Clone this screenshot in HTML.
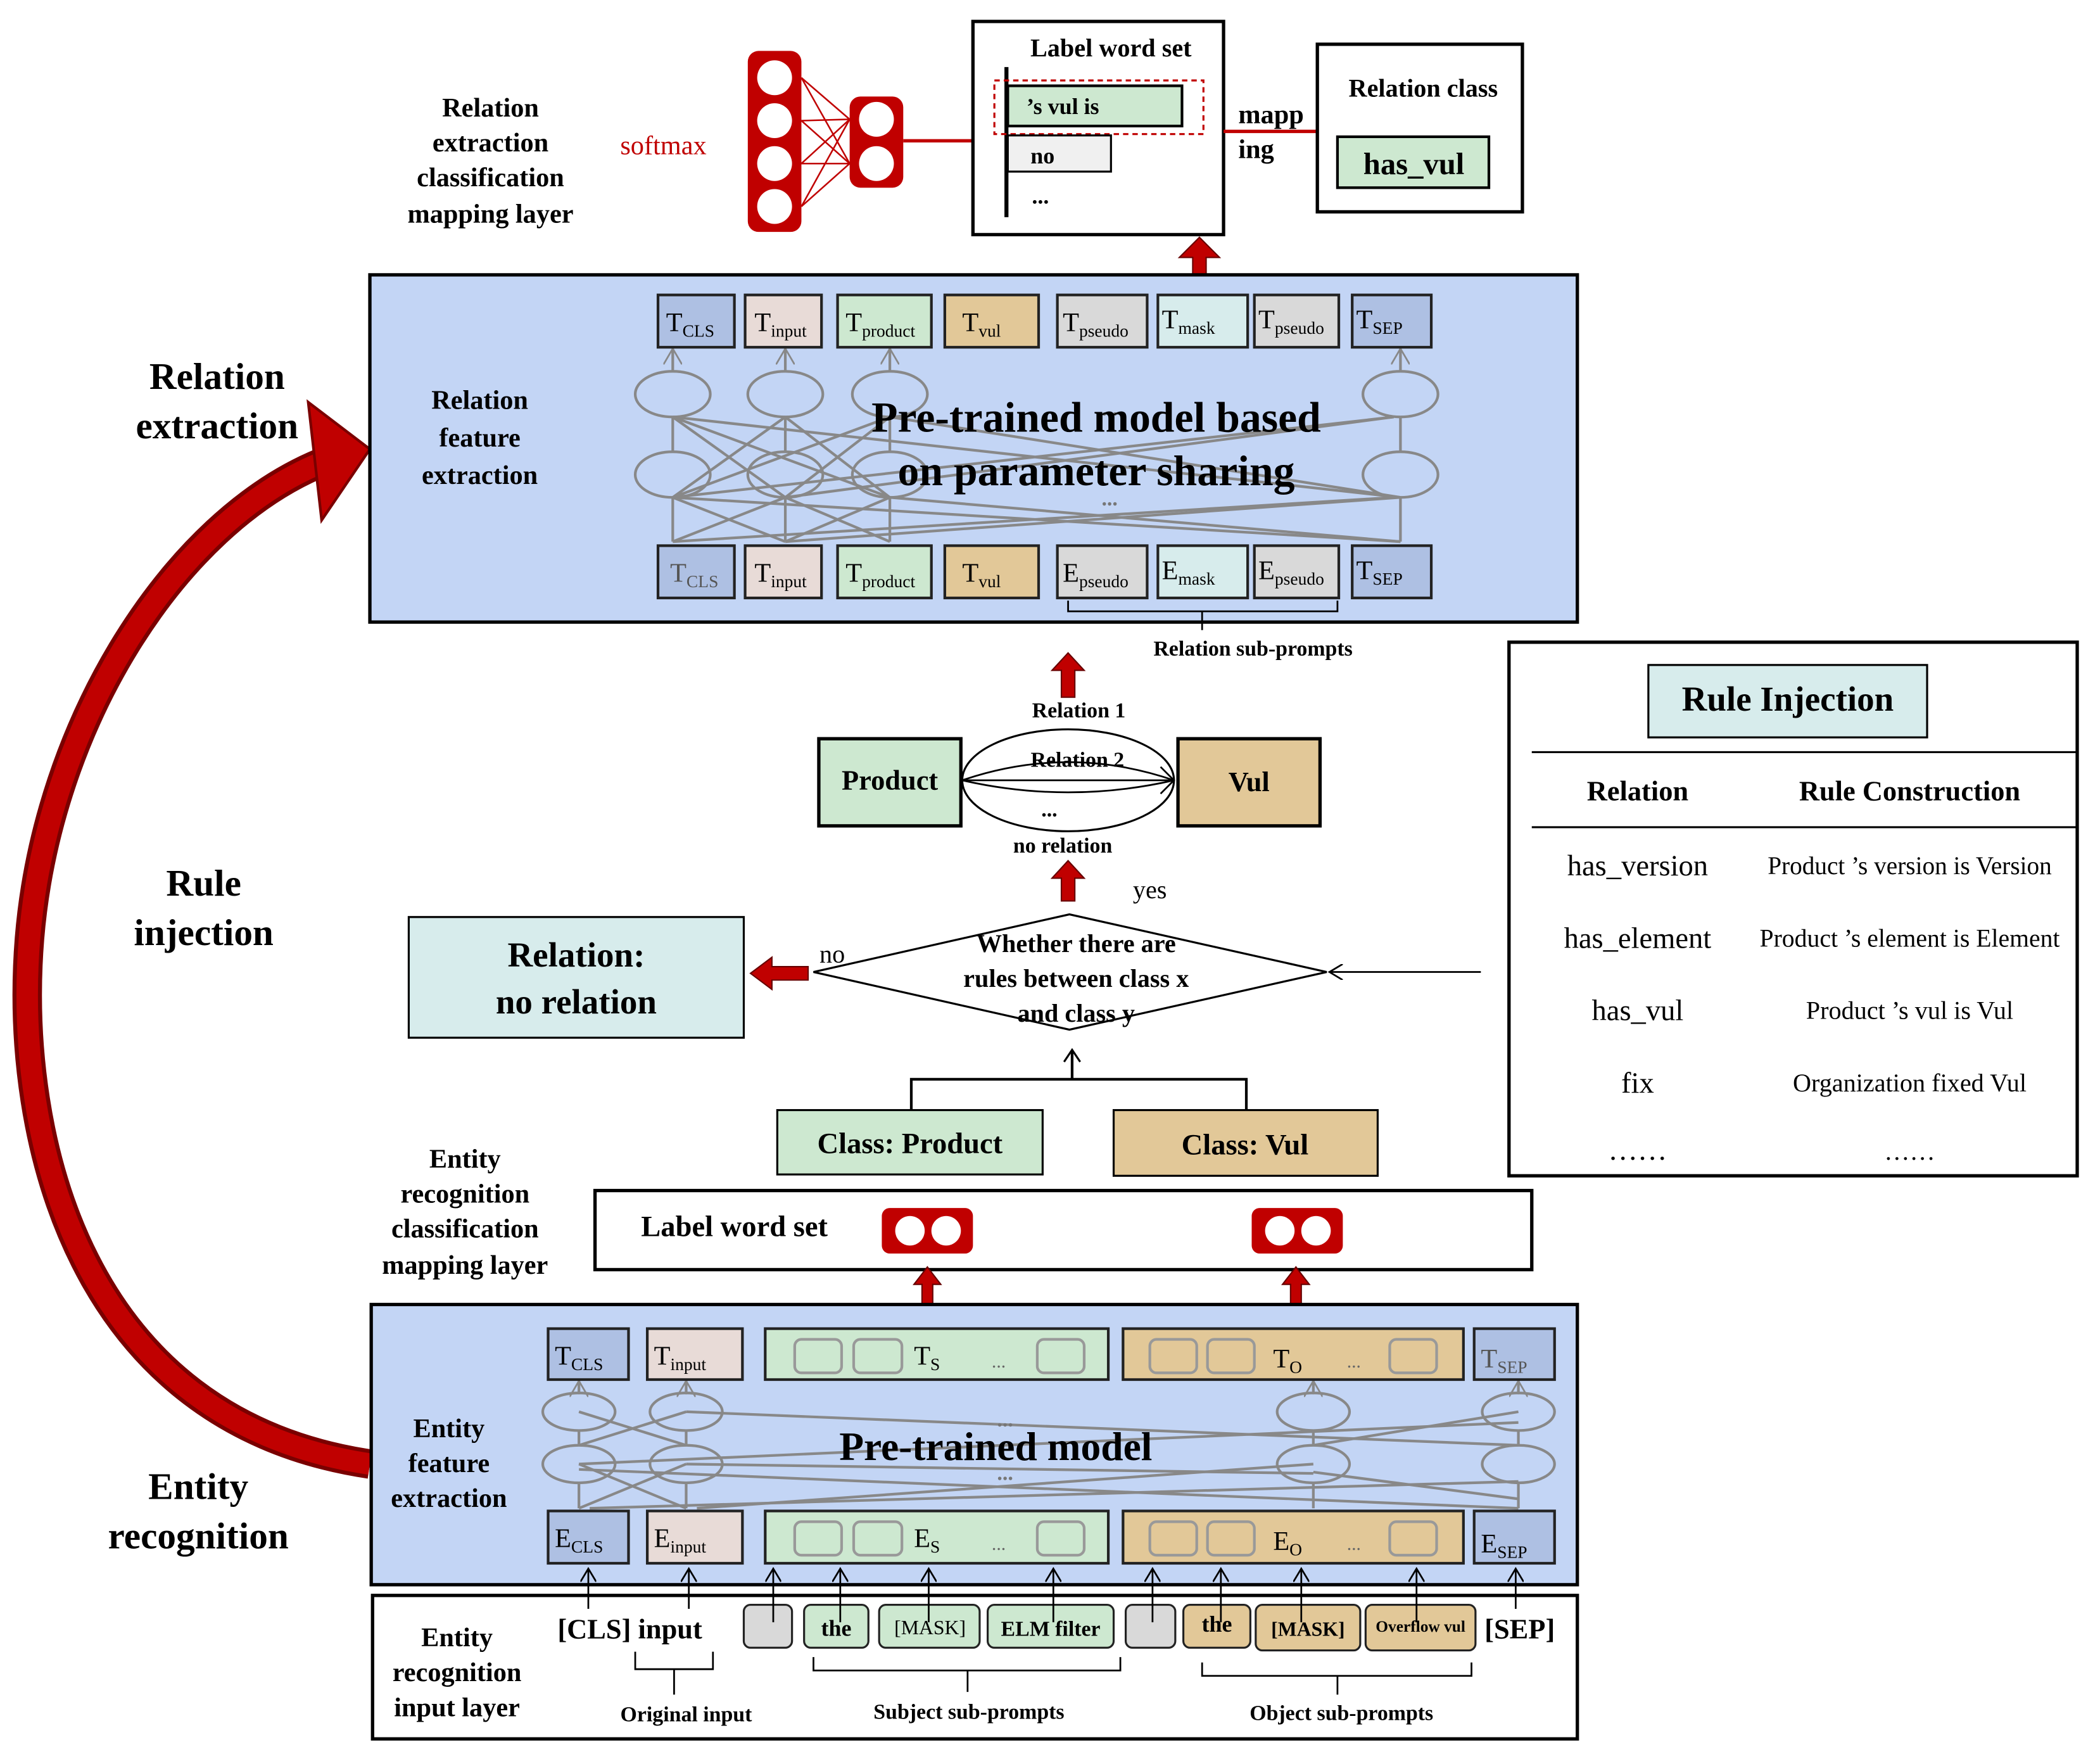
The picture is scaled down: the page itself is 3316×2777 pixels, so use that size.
<!DOCTYPE html>
<html><head><meta charset="utf-8"><style>
html,body{margin:0;padding:0;background:#fff;}
svg{display:block;}
text{font-family:"Liberation Serif",serif;font-weight:bold;fill:#000;}
</style></head><body>
<svg width="3316" height="2777" viewBox="0 0 1567 1312" preserveAspectRatio="none" xmlns="http://www.w3.org/2000/svg">
<defs>
<marker id="oa" markerWidth="12" markerHeight="12" refX="10" refY="6" orient="auto" markerUnits="userSpaceOnUse"><path d="M0,0 L10,6 L0,12" fill="none" stroke="#000" stroke-width="1.3"/></marker>
<marker id="ga" markerWidth="14" markerHeight="14" refX="12" refY="7" orient="auto" markerUnits="userSpaceOnUse"><path d="M0,0 L12,7 L0,14 M2,7 L12,7" fill="none" stroke="#888" stroke-width="1.3"/></marker>
</defs>

<path d="M276,1092 C60,1060 10,850 22,700 C35,540 130,390 240,345" fill="none" stroke="#7a0000" stroke-width="22"/>
<path d="M276,1092 C60,1060 10,850 22,700 C35,540 130,390 240,345" fill="none" stroke="#c00000" stroke-width="16"/>
<path d="M276,335 L230,300 L240,388 Z" fill="#c00000" stroke="#7a0000" stroke-width="2"/>

<g font-size="28" text-anchor="middle">
<text x="162" y="290">Relation</text><text x="162" y="327">extraction</text>
<text x="152" y="668">Rule</text><text x="152" y="705">injection</text>
<text x="148" y="1118">Entity</text><text x="148" y="1155">recognition</text>
</g>

<g font-size="20" text-anchor="middle">
<text x="366" y="87">Relation</text><text x="366" y="113">extraction</text><text x="366" y="139">classification</text><text x="366" y="166">mapping layer</text>
</g>
<text x="495" y="115" font-size="20" text-anchor="middle" style="fill:#c00000;font-weight:normal">softmax</text>
<g stroke="#c00000" stroke-width="1.2">
<line x1="598" y1="58" x2="634" y2="89"/><line x1="598" y1="58" x2="634" y2="122"/>
<line x1="598" y1="90" x2="634" y2="89"/><line x1="598" y1="90" x2="634" y2="122"/>
<line x1="598" y1="122" x2="634" y2="89"/><line x1="598" y1="122" x2="634" y2="122"/>
<line x1="598" y1="154" x2="634" y2="89"/><line x1="598" y1="154" x2="634" y2="122"/>
</g>
<rect x="558" y="38" width="40" height="135" rx="8" fill="#c00000"/>
<rect x="634" y="72" width="40" height="68" rx="8" fill="#c00000"/>
<g fill="#fff"><circle cx="578" cy="58" r="13"/><circle cx="578" cy="90" r="13"/><circle cx="578" cy="122" r="13"/><circle cx="578" cy="154" r="13"/><circle cx="654" cy="89" r="13"/><circle cx="654" cy="122" r="13"/></g>
<line x1="674" y1="105" x2="727" y2="105" stroke="#c00000" stroke-width="2.5"/>

<rect x="726" y="16" width="187" height="159" fill="#fff" stroke="#000" stroke-width="2.5"/>
<text x="829" y="42" font-size="19" text-anchor="middle">Label word set</text>
<line x1="751" y1="50" x2="751" y2="162" stroke="#000" stroke-width="3"/>
<rect x="742" y="60" width="156" height="40" fill="none" stroke="#c00000" stroke-width="1.5" stroke-dasharray="4,3"/>
<rect x="752" y="64" width="130" height="30" fill="#cde8d0" stroke="#000" stroke-width="2"/>
<text x="766" y="85" font-size="17">’s vul is</text>
<rect x="752" y="101" width="77" height="27" fill="#f0f0f0" stroke="#000" stroke-width="1.5"/>
<text x="769" y="122" font-size="17">no</text>
<text x="770" y="152" font-size="17">...</text>
<text x="924" y="92" font-size="20">mapp</text><text x="924" y="118" font-size="20">ing</text>
<line x1="913" y1="98" x2="985" y2="98" stroke="#c00000" stroke-width="2.5"/>
<rect x="983" y="33" width="153" height="125" fill="#fff" stroke="#000" stroke-width="2.5"/>
<text x="1062" y="72" font-size="19" text-anchor="middle">Relation class</text>
<rect x="998" y="102" width="113" height="38" fill="#cde8d0" stroke="#000" stroke-width="2"/>
<text x="1055" y="130" font-size="23" text-anchor="middle">has_vul</text>

<path d="M890,218 L890,192 L880,192 L895,177 L910,192 L900,192 L900,218 Z" fill="#c00000" stroke="#600" stroke-width="1"/>

<rect x="276" y="205" width="901" height="259" fill="#c3d5f5" stroke="#000" stroke-width="2.5"/>
<g font-size="20" text-anchor="middle"><text x="358" y="305">Relation</text><text x="358" y="333">feature</text><text x="358" y="361">extraction</text></g>
<g stroke="#888" stroke-width="2" fill="none">
<line x1="502" y1="371" x2="586" y2="311"/><line x1="586" y1="371" x2="502" y2="311"/><line x1="586" y1="371" x2="664" y2="311"/><line x1="664" y1="371" x2="586" y2="311"/>
<line x1="502" y1="371" x2="664" y2="311"/><line x1="664" y1="371" x2="502" y2="311"/>
<line x1="502" y1="371" x2="1040" y2="311"/><line x1="1045" y1="371" x2="502" y2="311"/><line x1="586" y1="371" x2="1040" y2="311"/><line x1="1045" y1="371" x2="664" y2="311"/>
<line x1="502" y1="404" x2="586" y2="371"/><line x1="586" y1="404" x2="502" y2="371"/><line x1="586" y1="404" x2="664" y2="371"/><line x1="664" y1="404" x2="586" y2="371"/>
<line x1="502" y1="404" x2="1040" y2="371"/><line x1="1045" y1="404" x2="502" y2="371"/><line x1="586" y1="404" x2="1045" y2="371"/><line x1="1045" y1="404" x2="664" y2="371"/>
<line x1="502" y1="404" x2="502" y2="371"/><line x1="586" y1="404" x2="586" y2="371"/><line x1="664" y1="404" x2="664" y2="371"/><line x1="1045" y1="404" x2="1045" y2="371"/>
<line x1="502" y1="337" x2="502" y2="311"/><line x1="586" y1="337" x2="586" y2="311"/><line x1="664" y1="337" x2="664" y2="311"/><line x1="1045" y1="337" x2="1045" y2="311"/>
<line x1="502" y1="277" x2="502" y2="260" marker-end="url(#ga)"/><line x1="586" y1="277" x2="586" y2="260" marker-end="url(#ga)"/><line x1="664" y1="277" x2="664" y2="260" marker-end="url(#ga)"/><line x1="1045" y1="277" x2="1045" y2="260" marker-end="url(#ga)"/>
<ellipse cx="502" cy="294" rx="28" ry="17"/><ellipse cx="586" cy="294" rx="28" ry="17"/><ellipse cx="664" cy="294" rx="28" ry="17"/><ellipse cx="1045" cy="294" rx="28" ry="17"/>
<ellipse cx="502" cy="354" rx="28" ry="17"/><ellipse cx="586" cy="354" rx="28" ry="17"/><ellipse cx="664" cy="354" rx="28" ry="17"/><ellipse cx="1045" cy="354" rx="28" ry="17"/>
</g>
<text x="828" y="310" font-size="16" style="fill:#777" text-anchor="middle">...</text>
<text x="828" y="377" font-size="16" style="fill:#777" text-anchor="middle">...</text>
<g font-size="32" text-anchor="middle"><text x="818" y="322">Pre-trained model based</text><text x="818" y="362">on parameter sharing</text></g>
<g stroke="#222" stroke-width="2" font-size="20">
<rect x="491" y="220" width="57" height="39" fill="#aec0e3"/><rect x="556" y="220" width="57" height="39" fill="#e8dbd7"/><rect x="625" y="220" width="70" height="39" fill="#cde8d0"/><rect x="705" y="220" width="70" height="39" fill="#e2c898"/>
<rect x="789" y="220" width="67" height="39" fill="#d9d9d9"/><rect x="864" y="220" width="67" height="39" fill="#d7ecec"/><rect x="936" y="220" width="63" height="39" fill="#d9d9d9"/><rect x="1009" y="220" width="59" height="39" fill="#aec0e3"/>
<rect x="491" y="407" width="57" height="39" fill="#aec0e3"/><rect x="556" y="407" width="57" height="39" fill="#e8dbd7"/><rect x="625" y="407" width="70" height="39" fill="#cde8d0"/><rect x="705" y="407" width="70" height="39" fill="#e2c898"/>
<rect x="789" y="407" width="67" height="39" fill="#d9d9d9"/><rect x="864" y="407" width="67" height="39" fill="#d7ecec"/><rect x="936" y="407" width="63" height="39" fill="#d9d9d9"/><rect x="1009" y="407" width="59" height="39" fill="#aec0e3"/>
</g>
<g font-size="20">
<text x="497" y="247" style="font-weight:normal">T<tspan font-size="13" dy="4">CLS</tspan></text>
<text x="563" y="247" style="font-weight:normal">T<tspan font-size="13" dy="4">input</tspan></text>
<text x="631" y="247" style="font-weight:normal">T<tspan font-size="13" dy="4">product</tspan></text>
<text x="718" y="247" style="font-weight:normal">T<tspan font-size="13" dy="4">vul</tspan></text>
<text x="793" y="247" style="font-weight:normal">T<tspan font-size="13" dy="4">pseudo</tspan></text>
<text x="867" y="245" style="font-weight:normal">T<tspan font-size="13" dy="4">mask</tspan></text>
<text x="939" y="245" style="font-weight:normal">T<tspan font-size="13" dy="4">pseudo</tspan></text>
<text x="1012" y="245" style="font-weight:normal">T<tspan font-size="13" dy="4">SEP</tspan></text>
<text x="500" y="434" style="font-weight:normal;fill:#555">T<tspan font-size="13" dy="4">CLS</tspan></text>
<text x="563" y="434" style="font-weight:normal">T<tspan font-size="13" dy="4">input</tspan></text>
<text x="631" y="434" style="font-weight:normal">T<tspan font-size="13" dy="4">product</tspan></text>
<text x="718" y="434" style="font-weight:normal">T<tspan font-size="13" dy="4">vul</tspan></text>
<text x="793" y="434" style="font-weight:normal">E<tspan font-size="13" dy="4">pseudo</tspan></text>
<text x="867" y="432" style="font-weight:normal">E<tspan font-size="13" dy="4">mask</tspan></text>
<text x="939" y="432" style="font-weight:normal">E<tspan font-size="13" dy="4">pseudo</tspan></text>
<text x="1012" y="432" style="font-weight:normal">T<tspan font-size="13" dy="4">SEP</tspan></text>
</g>
<path d="M797,448 L797,456 L998,456 L998,448 M897,456 L897,470" fill="none" stroke="#000" stroke-width="1.3"/>
<text x="935" y="489" font-size="16" text-anchor="middle">Relation sub-prompts</text>

<path d="M792,520 L792,500 L785,500 L797,487 L809,500 L802,500 L802,520 Z" fill="#c00000" stroke="#600"/>
<text x="805" y="535" font-size="16" text-anchor="middle">Relation 1</text>
<rect x="611" y="551" width="106" height="65" fill="#cde8d0" stroke="#000" stroke-width="2.5"/>
<text x="664" y="589" font-size="21" text-anchor="middle">Product</text>
<rect x="879" y="551" width="106" height="65" fill="#e2c898" stroke="#000" stroke-width="2.5"/>
<text x="932" y="590" font-size="21" text-anchor="middle">Vul</text>
<ellipse cx="797" cy="582" rx="79" ry="38" fill="#fff" stroke="#000" stroke-width="1.5"/>
<path d="M718,582 Q797,555 876,582 M718,582 Q797,600 876,582 M718,582 L876,582" fill="none" stroke="#000" stroke-width="1.3"/>
<path d="M866,572 L876,582 L866,592" fill="none" stroke="#000" stroke-width="1.3"/>
<text x="804" y="572" font-size="16" text-anchor="middle">Relation 2</text>
<text x="783" y="609" font-size="16" text-anchor="middle">...</text>
<text x="793" y="636" font-size="16" text-anchor="middle">no relation</text>
<path d="M792,672 L792,655 L785,655 L797,642 L809,655 L802,655 L802,672 Z" fill="#c00000" stroke="#600"/>
<text x="858" y="670" font-size="19" text-anchor="middle" style="font-weight:normal">yes</text>
<polygon points="607,725 798,682 990,725 798,768" fill="#fff" stroke="#000" stroke-width="1.5"/>
<g font-size="19" text-anchor="middle"><text x="803" y="710">Whether there are</text><text x="803" y="736">rules between class x</text><text x="803" y="762">and class y</text></g>
<line x1="1105" y1="725" x2="992" y2="725" stroke="#000" stroke-width="1.3" marker-end="url(#oa)"/>
<path d="M603,721 L576,721 L576,714 L560,726 L576,738 L576,731 L603,731 Z" fill="#c00000" stroke="#600"/>
<text x="621" y="718" font-size="19" text-anchor="middle" style="font-weight:normal">no</text>
<rect x="305" y="684" width="250" height="90" fill="#d7ecec" stroke="#000" stroke-width="1.5"/>
<g font-size="26" text-anchor="middle"><text x="430" y="721">Relation:</text><text x="430" y="756">no relation</text></g>
<path d="M680,828 L680,805 L930,805 L930,828 M800,805 L800,784" fill="none" stroke="#000" stroke-width="2"/>
<path d="M794,792 L800,783 L806,792" fill="none" stroke="#000" stroke-width="1.5"/>
<rect x="580" y="828" width="198" height="48" fill="#cde8d0" stroke="#000" stroke-width="1.5"/>
<text x="679" y="860" font-size="22" text-anchor="middle">Class: Product</text>
<rect x="831" y="828" width="197" height="49" fill="#e2c898" stroke="#000" stroke-width="1.5"/>
<text x="929" y="861" font-size="22" text-anchor="middle">Class: Vul</text>

<rect x="1126" y="479" width="424" height="398" fill="#fff" stroke="#000" stroke-width="2.5"/>
<rect x="1230" y="496" width="208" height="54" fill="#d7ecec" stroke="#000" stroke-width="1.5"/>
<text x="1334" y="530" font-size="26" text-anchor="middle">Rule Injection</text>
<line x1="1143" y1="561" x2="1550" y2="561" stroke="#000" stroke-width="1.5"/>
<line x1="1143" y1="617" x2="1550" y2="617" stroke="#000" stroke-width="1.5"/>
<text x="1222" y="597" font-size="21" text-anchor="middle">Relation</text>
<text x="1425" y="597" font-size="21" text-anchor="middle">Rule Construction</text>
<g font-size="22" text-anchor="middle">
<text x="1222" y="653" style="font-weight:normal">has_version</text>
<text x="1222" y="707" style="font-weight:normal">has_element</text>
<text x="1222" y="761" style="font-weight:normal">has_vul</text>
<text x="1222" y="815" style="font-weight:normal">fix</text>
<text x="1222" y="865" style="font-weight:normal">……</text>
</g>
<g font-size="19" text-anchor="middle">
<text x="1425" y="652" style="font-weight:normal" textLength="212" lengthAdjust="spacingAndGlyphs">Product ’s version is  Version</text>
<text x="1425" y="706" style="font-weight:normal" textLength="224" lengthAdjust="spacingAndGlyphs">Product ’s element is  Element</text>
<text x="1425" y="760" style="font-weight:normal">Product ’s vul is Vul</text>
<text x="1425" y="814" style="font-weight:normal">Organization fixed Vul</text>
<text x="1425" y="865" style="font-weight:normal">……</text>
</g>

<g font-size="20" text-anchor="middle"><text x="347" y="871">Entity</text><text x="347" y="897">recognition</text><text x="347" y="923">classification</text><text x="347" y="950">mapping layer</text></g>
<rect x="444" y="888" width="699" height="59" fill="#fff" stroke="#000" stroke-width="2.5"/>
<text x="548" y="922" font-size="22" text-anchor="middle">Label word set</text>
<rect x="658" y="901" width="68" height="34" rx="6" fill="#c00000"/><circle cx="679" cy="918" r="11" fill="#fff"/><circle cx="706" cy="918" r="11" fill="#fff"/>
<rect x="934" y="901" width="68" height="34" rx="6" fill="#c00000"/><circle cx="955" cy="918" r="11" fill="#fff"/><circle cx="982" cy="918" r="11" fill="#fff"/>
<path d="M688,973 L688,958 L682,958 L692,945 L702,958 L696,958 L696,973 Z" fill="#c00000" stroke="#600"/>
<path d="M963,973 L963,958 L957,958 L967,945 L977,958 L971,958 L971,973 Z" fill="#c00000" stroke="#600"/>

<rect x="277" y="973" width="900" height="209" fill="#c3d5f5" stroke="#000" stroke-width="2.5"/>
<g font-size="20" text-anchor="middle"><text x="335" y="1072">Entity</text><text x="335" y="1098">feature</text><text x="335" y="1124">extraction</text></g>
<g stroke="#888" stroke-width="2" fill="none">
<line x1="432" y1="1125" x2="512" y2="1092"/><line x1="512" y1="1125" x2="432" y2="1092"/>
<line x1="432" y1="1078" x2="512" y2="1053"/><line x1="512" y1="1078" x2="432" y2="1053"/>
<line x1="440" y1="1125" x2="1133" y2="1105"/><line x1="520" y1="1125" x2="980" y2="1092"/><line x1="1133" y1="1125" x2="432" y2="1096"/><line x1="1133" y1="1118" x2="980" y2="1098"/>
<line x1="432" y1="1092" x2="1133" y2="1061"/><line x1="1133" y1="1078" x2="512" y2="1053"/><line x1="512" y1="1092" x2="980" y2="1099"/><line x1="980" y1="1078" x2="1133" y2="1053"/>
<line x1="432" y1="1125" x2="432" y2="1106"/><line x1="512" y1="1125" x2="512" y2="1106"/><line x1="980" y1="1125" x2="980" y2="1106"/><line x1="1133" y1="1125" x2="1133" y2="1106"/>
<line x1="432" y1="1078" x2="432" y2="1067"/><line x1="512" y1="1078" x2="512" y2="1067"/><line x1="980" y1="1078" x2="980" y2="1067"/><line x1="1133" y1="1078" x2="1133" y2="1067"/>
<line x1="432" y1="1039" x2="432" y2="1030" marker-end="url(#ga)"/><line x1="512" y1="1039" x2="512" y2="1030" marker-end="url(#ga)"/><line x1="980" y1="1039" x2="980" y2="1030" marker-end="url(#ga)"/><line x1="1133" y1="1039" x2="1133" y2="1030" marker-end="url(#ga)"/>
<ellipse cx="432" cy="1053" rx="27" ry="14"/><ellipse cx="512" cy="1053" rx="27" ry="14"/><ellipse cx="980" cy="1053" rx="27" ry="14"/><ellipse cx="1133" cy="1053" rx="27" ry="14"/>
<ellipse cx="432" cy="1092" rx="27" ry="14"/><ellipse cx="512" cy="1092" rx="27" ry="14"/><ellipse cx="980" cy="1092" rx="27" ry="14"/><ellipse cx="1133" cy="1092" rx="27" ry="14"/>
</g>
<text x="750" y="1064" font-size="16" style="fill:#777" text-anchor="middle">...</text>
<text x="750" y="1104" font-size="16" style="fill:#777" text-anchor="middle">...</text>
<text x="743" y="1089" font-size="30" text-anchor="middle">Pre-trained model</text>
<g stroke="#222" stroke-width="2">
<rect x="409" y="991" width="60" height="38" fill="#aec0e3"/><rect x="483" y="991" width="71" height="38" fill="#e8dbd7"/><rect x="571" y="991" width="256" height="38" fill="#cde8d0"/><rect x="838" y="991" width="254" height="38" fill="#e2c898"/><rect x="1100" y="991" width="60" height="38" fill="#aec0e3"/>
<rect x="409" y="1127" width="60" height="39" fill="#aec0e3"/><rect x="483" y="1127" width="71" height="39" fill="#e8dbd7"/><rect x="571" y="1127" width="256" height="39" fill="#cde8d0"/><rect x="838" y="1127" width="254" height="39" fill="#e2c898"/><rect x="1100" y="1127" width="60" height="39" fill="#aec0e3"/>
</g>
<g fill="none" stroke="#999" stroke-width="2">
<rect x="593" y="999" width="35" height="25" rx="5"/><rect x="637" y="999" width="36" height="25" rx="5"/><rect x="774" y="999" width="35" height="25" rx="5"/>
<rect x="858" y="999" width="35" height="25" rx="5"/><rect x="901" y="999" width="35" height="25" rx="5"/><rect x="1037" y="999" width="35" height="25" rx="5"/>
<rect x="593" y="1135" width="35" height="25" rx="5"/><rect x="637" y="1135" width="36" height="25" rx="5"/><rect x="774" y="1135" width="35" height="25" rx="5"/>
<rect x="858" y="1135" width="35" height="25" rx="5"/><rect x="901" y="1135" width="35" height="25" rx="5"/><rect x="1037" y="1135" width="35" height="25" rx="5"/>
</g>
<g font-size="20">
<text x="414" y="1018" style="font-weight:normal">T<tspan font-size="13" dy="4">CLS</tspan></text>
<text x="488" y="1018" style="font-weight:normal">T<tspan font-size="13" dy="4">input</tspan></text>
<text x="682" y="1018" style="font-weight:normal">T<tspan font-size="13" dy="4">S</tspan></text>
<text x="740" y="1020" style="font-weight:normal;fill:#666" font-size="14">...</text>
<text x="950" y="1020" style="font-weight:normal">T<tspan font-size="13" dy="4">O</tspan></text>
<text x="1005" y="1020" style="font-weight:normal;fill:#666" font-size="14">...</text>
<text x="1105" y="1020" style="font-weight:normal;fill:#555">T<tspan font-size="13" dy="4">SEP</tspan></text>
<text x="414" y="1154" style="font-weight:normal">E<tspan font-size="13" dy="4">CLS</tspan></text>
<text x="488" y="1154" style="font-weight:normal">E<tspan font-size="13" dy="4">input</tspan></text>
<text x="682" y="1154" style="font-weight:normal">E<tspan font-size="13" dy="4">S</tspan></text>
<text x="740" y="1156" style="font-weight:normal;fill:#666" font-size="14">...</text>
<text x="950" y="1156" style="font-weight:normal">E<tspan font-size="13" dy="4">O</tspan></text>
<text x="1005" y="1156" style="font-weight:normal;fill:#666" font-size="14">...</text>
<text x="1105" y="1158" style="font-weight:normal">E<tspan font-size="13" dy="4">SEP</tspan></text>
</g>

<rect x="278" y="1190" width="899" height="107" fill="#fff" stroke="#000" stroke-width="2.5"/>
<g font-size="20" text-anchor="middle"><text x="341" y="1228">Entity</text><text x="341" y="1254">recognition</text><text x="341" y="1280">input layer</text></g>
<text x="470" y="1222" font-size="21" text-anchor="middle">[CLS] input</text>
<text x="1134" y="1222" font-size="21" text-anchor="middle">[SEP]</text>
<g stroke="#222" stroke-width="1.5">
<rect x="555" y="1197" width="36" height="32" rx="5" fill="#d9d9d9"/>
<rect x="600" y="1197" width="48" height="32" rx="5" fill="#cde8d0"/>
<rect x="656" y="1197" width="75" height="32" rx="5" fill="#cde8d0"/>
<rect x="737" y="1197" width="94" height="32" rx="5" fill="#cde8d0"/>
<rect x="840" y="1197" width="37" height="32" rx="5" fill="#d9d9d9"/>
<rect x="883" y="1197" width="50" height="32" rx="5" fill="#e2c898"/>
<rect x="937" y="1197" width="78" height="34" rx="5" fill="#e2c898"/>
<rect x="1019" y="1197" width="82" height="34" rx="5" fill="#e2c898"/>
</g>
<text x="624" y="1220" font-size="17" text-anchor="middle">the</text>
<text x="694" y="1219" font-size="15" text-anchor="middle" style="font-weight:normal">[MASK]</text>
<text x="784" y="1220" font-size="16" text-anchor="middle">ELM filter</text>
<text x="908" y="1217" font-size="17" text-anchor="middle">the</text>
<text x="976" y="1220" font-size="15" text-anchor="middle">[MASK]</text>
<text x="1060" y="1217" font-size="12" text-anchor="middle">Overflow vul</text>
<g stroke="#000" stroke-width="1.3" fill="none">
<line x1="439" y1="1200" x2="439" y2="1170" marker-end="url(#oa)"/>
<line x1="514" y1="1200" x2="514" y2="1170" marker-end="url(#oa)"/>
<line x1="577" y1="1210" x2="577" y2="1170" marker-end="url(#oa)"/>
<line x1="627" y1="1210" x2="627" y2="1170" marker-end="url(#oa)"/>
<line x1="693" y1="1210" x2="693" y2="1170" marker-end="url(#oa)"/>
<line x1="786" y1="1210" x2="786" y2="1170" marker-end="url(#oa)"/>
<line x1="860" y1="1210" x2="860" y2="1170" marker-end="url(#oa)"/>
<line x1="911" y1="1210" x2="911" y2="1170" marker-end="url(#oa)"/>
<line x1="971" y1="1210" x2="971" y2="1170" marker-end="url(#oa)"/>
<line x1="1057" y1="1210" x2="1057" y2="1170" marker-end="url(#oa)"/>
<line x1="1131" y1="1200" x2="1131" y2="1170" marker-end="url(#oa)"/>
<path d="M474,1232 L474,1245 L532,1245 L532,1232 M503,1245 L503,1264"/>
<path d="M607,1236 L607,1246 L836,1246 L836,1236 M722,1246 L722,1262"/>
<path d="M897,1240 L897,1250 L1098,1250 L1098,1240 M998,1250 L998,1264"/>
</g>
<text x="512" y="1284" font-size="16" text-anchor="middle">Original input</text>
<text x="723" y="1282" font-size="16" text-anchor="middle">Subject sub-prompts</text>
<text x="1001" y="1283" font-size="16" text-anchor="middle">Object sub-prompts</text>
</svg>
</body></html>
